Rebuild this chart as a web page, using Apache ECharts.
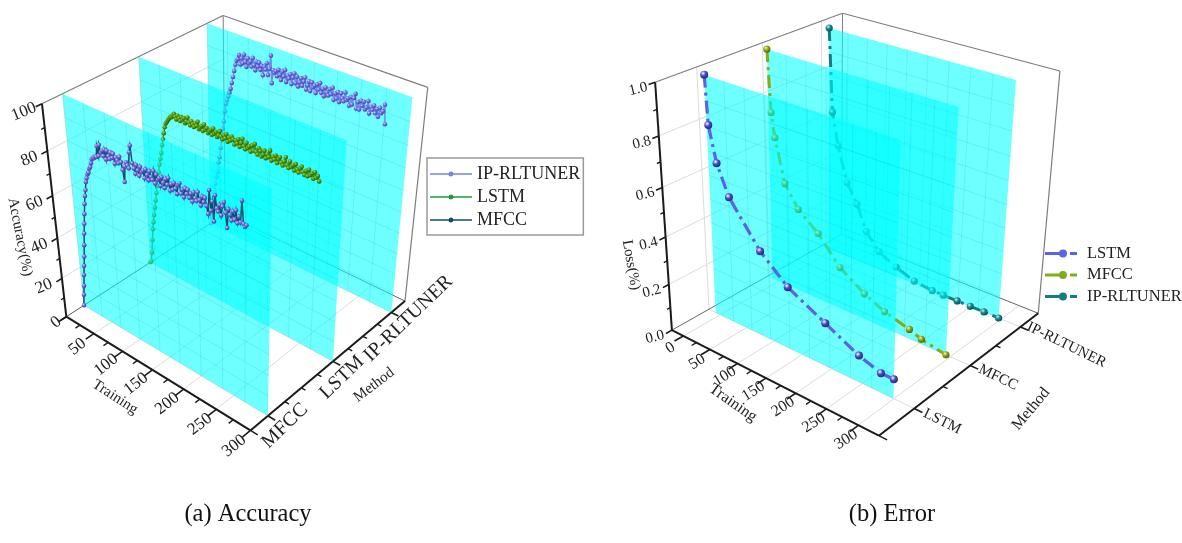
<!DOCTYPE html>
<html><head><meta charset="utf-8"><style>html,body{margin:0;background:#fff}#c{width:1182px;height:543px}</style>
<script src="https://cdn.jsdelivr.net/npm/echarts@6/dist/echarts.min.js"></script></head><body><div id="c"></div><script>
// ---------- data (a) ----------
const trainingA=[0,2,4,6,8,10,12,14,16,18,20,22,24,26,28,30,32,34,36,38,40,42,44,46,48,
50,52,54,56,58,60,62,64,66,68,70,72,74,76,78,80,82,84,86,88,90,92,94,96,98,100,102,104,106,108,
110,112,114,116,118,120,122,124,126,128,130,132,134,136,138,140,142,144,146,148,150,152,154,156,158,160,162,164,166,168,
170,172,174,176,178,180,182,184,186,188,190,192,194,196,198,200,202,204,206,208,210,212,214,216,218,220,222,224,226,228,
230,232,234,236,238,240,242,244,246,248,250,252,254,256,258,260,262,264,266,268];
const accMFCC=[0,6,11,17,22,27,33,39,44,49,54,58,61,65,67,69,70,72,73,75,77,78,78,79,79,
84,80,85,82,83,81,84,80,84,82,81,84,82,84,80,83,82,81,84,82,79,74,81,83,82,81,88,91,84,82,
80,84,82,80,84,82,83,80,84,82,80,84,82,81,85,80,84,82,83,80,84,82,80,84,82,85,80,83,81,84,
82,80,84,85,81,83,80,84,82,84,81,83,80,84,82,81,85,82,80,84,82,84,81,78,88,80,84,76,87,82,
81,84,80,84,86,82,76,84,82,80,84,81,85,80,83,81,90,81,80,81];
const accLSTM=[0,1,6,13,19,23,27,31,35,39,43,46,50,54,57,60,64,67,70,73,75,76,77,78,79,
79,80,81,80,79,81,80,79,81,80,81,79,80,82,80,79,81,80,79,81,80,82,79,80,81,79,82,80,81,79,
80,81,79,82,80,81,79,80,82,80,79,81,80,82,79,81,80,82,81,79,81,80,82,79,81,83,80,79,82,80,
81,79,82,80,83,80,79,82,81,79,80,82,79,81,80,83,79,81,80,82,79,81,82,80,79,81,83,80,79,82,
80,81,79,82,80,79,81,82,80,79,81,79,82,80,81,79,82,80,81,79];
const accIP=[0,4,8,13,18,23,27,30,35,38,43,48,53,57,62,66,68,70,72,74,77,80,83,86,88,
89,91,87,90,88,92,89,87,91,89,90,88,92,89,87,91,89,91,88,90,86,90,89,92,87,90,96,84,90,89,
90,88,91,89,87,91,89,92,87,90,89,91,87,90,92,88,91,87,89,91,88,90,92,87,89,91,87,91,89,90,
87,91,89,92,88,90,87,91,89,88,91,89,92,87,90,88,91,87,91,89,88,92,89,90,87,91,88,91,93,87,
90,87,91,89,91,88,89,92,87,90,89,91,88,90,87,91,89,90,93,85];
// ---------- data (b) ----------
const trainLSTM=[-9,-6,6,26,79,126,189,244,279,299];
const lossLSTM=[.98,.79,.65,.53,.36,.26,.18,.11,.08,.08];
const trainMFCC=[-14,-9,-3,14,38,74,113,156,191,233,253,293];
const lossMFCC=[.98,.73,.63,.45,.36,.29,.18,.11,.07,.04,.02,0];
const trainIP=[-8,-2,9,26,45,63,87,119,152,184,203,227,249,272,296];
const lossIP=[.98,.63,.49,.34,.26,.15,.08,.04,.01,0,0,0,0,0,0];
// ---------- ticks / labels ----------
const trainingTicks=[0,50,100,150,200,250,300];
const trainingMinor=[25,75,125,175,225,275];
const accuracyTicks=[0,20,40,60,80,100];
const accuracyMinor=[10,30,50,70,90];
const lossTicks=[0,.2,.4,.6,.8,1];
const lossMinor=[.1,.3,.5,.7,.9];
const methodsA=['MFCC','LSTM','IP-RLTUNER'];
const methodsB=['LSTM','MFCC','IP-RLTUNER'];

// ---------- projection ----------
function solve(A,b){const n=b.length;for(let i=0;i<n;i++){let p=i;for(let r=i+1;r<n;r++)if(Math.abs(A[r][i])>Math.abs(A[p][i]))p=r;[A[i],A[p]]=[A[p],A[i]];[b[i],b[p]]=[b[p],b[i]];for(let r=i+1;r<n;r++){const f=A[r][i]/A[i][i];for(let c=i;c<n;c++)A[r][c]-=f*A[i][c];b[r]-=f*b[i];}}const x=Array(n).fill(0);for(let i=n-1;i>=0;i--){let s=b[i];for(let c=i+1;c<n;c++)s-=A[i][c]*x[c];x[i]=s/A[i][i];}return x;}
function fit(an){const R=[],Y=[];an.forEach(([X,Q,Z,u,v])=>{R.push([X,Q,Z,1,0,0,0,0,-u*X,-u*Q,-u*Z]);Y.push(u);R.push([0,0,0,0,X,Q,Z,1,-v*X,-v*Q,-v*Z]);Y.push(v);});const A=Array.from({length:11},()=>Array(11).fill(0)),b=Array(11).fill(0);R.forEach((r,k)=>{for(let i=0;i<11;i++){b[i]+=r[i]*Y[k];for(let j=0;j<11;j++)A[i][j]+=r[i]*r[j];}});const p=solve(A,b);p.push(1);return p;}
function fw(p,X,Q,Z){const w=p[8]*X+p[9]*Q+p[10]*Z+1;return [(p[0]*X+p[1]*Q+p[2]*Z+p[3])/w,(p[4]*X+p[5]*Q+p[6]*Z+p[7])/w];}
const camA=fit([[0,0,0,67,316],[1,0,0,250,431],[1,1,0,406,300],[0,1,0,224,215],[0,0,1,42,103],[0,1,1,224,15],[1,1,1,427,88],[0,0,.6,52,197],[0,0,.2,62,278]]);
const camB=fit([[0,0,0,672,329],[1,0,0,879,436],[1,1,0,1038,313],[0,1,0,842,235],[0,0,1,656,82],[0,1,1,842,13],[1,1,1,1060,71],[0,0,.2,668,285],[0,0,.6,662,188]]);
const panels=[
 {cam:camA,g:0,xMin:0,mMin:.75,mMax:3.25,xMax:300,zMax:100,methods:methodsA,xT:trainingTicks,xM:trainingMinor,zT:accuracyTicks.slice(1),zAll:accuracyTicks,zM:accuracyMinor,mMinor:[1.25,1.5,1.75,2.25,2.5,2.75],
  tickFont:17,zFont:17,mFont:20,tFont:15,zFmt:v=>String(v),xLab:-.09,xRot:38,zRot:22,mRot:44,xShift:v=>v===0?[6,-7]:[0,0],
  mOff:[[17,10],[9,16],[17,6]],zLab:[-18,8],tTrain:[115,397,-33],tMethod:[374,385,37],tZ:[20,237,-79,'Accuracy(%)',15]},
 {cam:camB,g:1,xMin:-22,mMin:.42,mMax:3.38,xMax:331,zMax:1,methods:methodsB,xT:trainingTicks,xM:trainingMinor,zT:lossTicks,zAll:lossTicks,zM:lossMinor,mMinor:[1.5,2.5],
  tickFont:16,zFont:15,mFont:15,tFont:16,zFmt:v=>v.toFixed(1),xLab:-.08,xRot:32,zRot:14,mRot:-26,xShift:v=>[3,1],
  mOff:[[28,13],[28,12],[46,18]],zLab:[-17,7],tTrain:[733,403,-35],tMethod:[1031,409,50],tZ:[631,265,-80,'Loss(%)',15]}
];
const serif='"Liberation Serif","Times New Roman",serif';

function pj(P,params,api,x,m,z){ // data values -> library axes -> normalised cube -> picture
  const c=api.coord([x,z]),s=params.coordSys;
  const nx=(c[0]-s.x)/s.width,nz=1-(c[1]-s.y)/s.height,ny=(m-P.mMin)/(P.mMax-P.mMin);
  return fw(P.cam,nx,ny,nz);
}
const seg=(a,b,stroke,w)=>({type:'line',shape:{x1:a[0],y1:a[1],x2:b[0],y2:b[1]},style:{stroke,lineWidth:w},silent:true});
const txt=(x,y,rotDeg,text,size,color)=>({type:'text',x,y,rotation:rotDeg*Math.PI/180,style:{text,x:0,y:0,align:'center',verticalAlign:'middle',font:size+'px '+serif,fill:color||'#222'},silent:true});

function frameSeries(P){
  return {type:'custom',name:'frame'+P.g,coordinateSystem:'cartesian2d',xAxisIndex:P.g,yAxisIndex:P.g,silent:true,clip:false,
   data:[[0,0]],renderItem(params,api){
    const p=(x,m,z)=>pj(P,params,api,x,m,z),e=[];
    const x0=P.xMin,x1=P.xMax,m0=P.mMin,m1=P.mMax,zT=P.zMax,G='#dcdcdc',F='#7d7d7d';
    P.zAll.forEach(z=>{ if(z>0&&z<zT){e.push(seg(p(x0,m0,z),p(x0,m1,z),G,1));}});
    P.xT.forEach(x=>{e.push(seg(p(x,m0,0),p(x,m1,0),G,1));});
    [1,2,3].forEach(m=>{e.push(seg(p(x0,m,0),p(x0,m,zT),G,1),seg(p(x0,m,0),p(x1,m,0),G,1));});
    // box edges
    e.push(seg(p(x0,m0,zT),p(x0,m1,zT),F,1.2),seg(p(x0,m1,zT),p(x1,m1,zT),F,1.2),seg(p(x1,m1,zT),p(x1,m1,0),F,1.2),seg(p(x0,m1,zT),p(x0,m1,0),F,1));
    e.push(seg(p(x0,m0,0),p(x0,m1,0),'#666',1),seg(p(x0,m1,0),p(x1,m1,0),'#666',1));
    // axes
    const K='#1a1a1a';
    e.push(seg(p(x0,m0,0),p(x1,m0,0),K,2),seg(p(x1,m0,0),p(x1,m1,0),K,2),seg(p(x0,m0,0),p(x0,m0,zT),K,2));
    const dm=m1-m0,dx=x1-x0;
    P.xT.forEach(x=>e.push(seg(p(x,m0,0),p(x,m0-.045*dm,0),K,1.6)));
    P.xM.forEach(x=>e.push(seg(p(x,m0,0),p(x,m0-.025*dm,0),K,1.4)));
    P.zAll.forEach(z=>e.push(seg(p(x0,m0,z),p(x0,m0-.03*dm,z),K,1.6)));
    P.zM.forEach(z=>e.push(seg(p(x0,m0,z),p(x0,m0-.017*dm,z),K,1.4)));
    [1,2,3].forEach(m=>e.push(seg(p(x1,m,0),p(x1+.035*dx,m,0),K,1.6)));
    P.mMinor.forEach(m=>e.push(seg(p(x1,m,0),p(x1+.02*dx,m,0),K,1.4)));
    e.push(seg(p(x1,m0,0),p(x1+.035*dx,m0,0),K,1.4));
    // tick labels
    P.xT.forEach(x=>{const q=p(x,m0+P.xLab*dm,0),s=P.xShift(x);e.push(txt(q[0]+s[0],q[1]+2+s[1],P.xRot,String(x),P.tickFont));});
    P.zT.forEach(z=>{const q=p(x0,m0,z);e.push(txt(q[0]+P.zLab[0],q[1]+P.zLab[1],P.zRot,P.zFmt(z),P.zFont));});
    P.methods.forEach((n,i)=>{const q=p(x1,i+1,0);e.push(txt(q[0]+P.mOff[i][0],q[1]+P.mOff[i][1],P.mRot,n,P.mFont));});
    e.push(txt(P.tTrain[0],P.tTrain[1],P.tTrain[2],'Training',P.tFont));
    e.push(txt(P.tMethod[0],P.tMethod[1],P.tMethod[2],'Method',P.tFont));
    e.push(txt(P.tZ[0],P.tZ[1],P.tZ[2],P.tZ[3],P.tZ[4]));
    return {type:'group',children:e};
   }};
}
function planeSeries(P,method,xa,xb,ztop){
  return {type:'custom',name:'plane'+P.g+method,coordinateSystem:'cartesian2d',xAxisIndex:P.g,yAxisIndex:P.g,silent:true,clip:false,
   data:[[xa,0],[xb,ztop]],renderItem(params,api){
    if(params.dataIndex)return null;
    const p=(x,z)=>pj(P,params,api,x,method,z),e=[];
    e.push({type:'polygon',shape:{points:[p(xa,0),p(xb,0),p(xb,ztop),p(xa,ztop)]},style:{fill:'rgba(0,255,255,0.57)'},silent:true});
    const C='rgba(0,150,180,0.14)',cols=9,rows=10;
    for(let i=1;i<cols;i++){const x=xa+(xb-xa)*i/cols;e.push(seg(p(x,0),p(x,ztop),C,1));}
    for(let j=1;j<rows;j++){const z=ztop*j/rows;e.push(seg(p(xa,z),p(xb,z),C,1));}
    return {type:'group',children:e};
   }};
}
function lineSeries(P,name,method,xs,ys,o){
  const sphere={type:'radial',x:.36,y:.32,r:.72,colorStops:[{offset:0,color:o.hi},{offset:.45,color:o.mark},{offset:1,color:o.edge}]};
  return {type:'custom',name,coordinateSystem:'cartesian2d',xAxisIndex:P.g,yAxisIndex:P.g,clip:false,silent:true,itemStyle:{color:o.line},
   data:xs.map((x,i)=>[x,ys[i]]),renderItem(params,api){
    const q=pj(P,params,api,api.value(0),method,api.value(1));
    const dot={type:'circle',shape:{cx:q[0],cy:q[1],r:o.r},style:{fill:sphere},silent:true};
    if(params.dataIndex>0)return dot;
    const pts=xs.map((x,i)=>pj(P,params,api,x,method,ys[i]));
    return {type:'group',children:[{type:'polyline',shape:{points:pts},style:{fill:'none',stroke:o.line,lineWidth:o.w,lineDash:o.dash||null},silent:true},dot]};
   }};
}
const A=panels[0],B=panels[1];
const styleA={ip:{line:'#7484e6',mark:'#6a6ee0',hi:'#c9cbff',edge:'#3e3fa8',r:2.3,w:1.4},
 ls:{line:'#1f9a3a',mark:'#4f9a10',hi:'#9fd040',edge:'#255500',r:2.3,w:1.4},
 mf:{line:'#0f4f66',mark:'#6d68d8',hi:'#cfcbff',edge:'#3b3aa0',r:2.3,w:1.5}};
const dashB=[13,5,3,5];
const styleB={ls:{line:'#5a62e6',mark:'#4a4cc4',hi:'#ffffff',edge:'#24247c',r:4,w:3.2,dash:dashB},
 mf:{line:'#7fae1a',mark:'#8aa616',hi:'#f6f7c0',edge:'#4d5f00',r:3.6,w:3,dash:dashB},
 ip:{line:'#0f7f84',mark:'#12858c',hi:'#c8f5f5',edge:'#064f55',r:3.6,w:3,dash:dashB}};
const iconA='path://M0,1.7H42V3.3H0Z M21,0a2.5,2.5 0 1,1 -.01,0Z';
const iconB='path://M0,2.5H18V5.5H0Z M18,0a4,4 0 1,1 -.01,0Z M25,2.5H32V5.5H25Z';
const legendFont={fontFamily:serif,color:'#222'};
const capStyle={fontFamily:serif,fontSize:24.5,fontWeight:'normal',color:'#111'};
const option={
 animation:false,backgroundColor:'#fff',
 title:[{text:'(a) Accuracy',left:243,top:497,textAlign:'center',textStyle:capStyle},
        {text:'(b) Error',left:887,top:497,textAlign:'center',textStyle:capStyle}],
 grid:[{left:40,top:15,width:400,height:420,show:false},{left:650,top:15,width:400,height:420,show:false}],
 xAxis:[{type:'value',gridIndex:0,min:0,max:300,show:false},{type:'value',gridIndex:1,min:-22,max:331,show:false}],
 yAxis:[{type:'value',gridIndex:0,min:0,max:100,show:false},{type:'value',gridIndex:1,min:0,max:1,show:false}],
 legend:[
  {orient:'vertical',left:427,top:158,padding:[7,3,6,3],itemGap:5,itemWidth:42,itemHeight:5,selectedMode:false,
   borderColor:'#9a9a9a',borderWidth:1.5,textStyle:{...legendFont,fontSize:18},itemStyle:{borderWidth:0},
   data:[{name:'IP-RLTUNER',icon:iconA,itemStyle:{color:styleA.ip.line}},{name:'LSTM',icon:iconA,itemStyle:{color:styleA.ls.line}},{name:'MFCC',icon:iconA,itemStyle:{color:styleA.mf.line}}]},
  {orient:'vertical',left:1045,top:245,padding:0,itemGap:4.5,itemWidth:32,itemHeight:8,selectedMode:false,
   textStyle:{...legendFont,fontSize:16.5,padding:[0,0,0,5]},itemStyle:{borderWidth:0},
   data:[{name:'LSTM',icon:iconB,itemStyle:{color:styleB.ls.line}},{name:'MFCC',icon:iconB,itemStyle:{color:styleB.mf.line}},{name:'IP-RLTUNER',icon:iconB,itemStyle:{color:styleB.ip.line}}]}
 ],
 series:[
  frameSeries(A),
  planeSeries(A,3,0,300,100),lineSeries(A,'IP-RLTUNER',3,trainingA,accIP,styleA.ip),
  planeSeries(A,2,0,300,100),lineSeries(A,'LSTM',2,trainingA,accLSTM,styleA.ls),
  planeSeries(A,1,0,300,100),lineSeries(A,'MFCC',1,trainingA,accMFCC,styleA.mf),
  frameSeries(B),
  planeSeries(B,3,-8,296,.98),lineSeries(B,'IP-RLTUNER',3,trainIP,lossIP,styleB.ip),
  planeSeries(B,2,-14,293,.98),lineSeries(B,'MFCC',2,trainMFCC,lossMFCC,styleB.mf),
  planeSeries(B,1,-9,299,.98),lineSeries(B,'LSTM',1,trainLSTM,lossLSTM,styleB.ls)
 ]
};
echarts.init(document.getElementById('c'),null,{renderer:'canvas'}).setOption(option);
</script></body></html>
